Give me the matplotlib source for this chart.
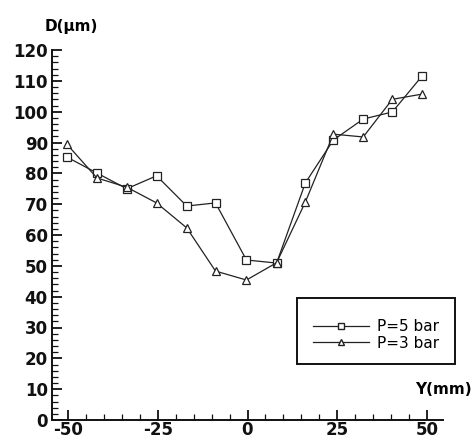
import matplotlib
matplotlib.use("Agg")
import matplotlib.pyplot as plt
from matplotlib.ticker import MultipleLocator
from matplotlib.patches import Rectangle
from matplotlib.lines import Line2D

plt.rcParams["axes.unicode_minus"] = False

y_pos = [-50.3, -41.9, -33.6, -25.3, -16.9, -8.9, -0.3, 8.1, 16.1, 23.9, 32.2, 40.3, 48.6]
d_5bar = [85.3, 80.1, 75.0, 79.2, 69.4, 70.4, 51.9, 50.9, 76.9, 90.8, 97.6, 99.9, 111.6]
d_3bar = [89.5, 78.5, 75.5, 70.4, 62.3, 48.3, 45.4, 51.0, 70.7, 92.7, 91.8, 104.0, 105.7]
labels = ["P=5 bar", "P=3 bar"]
x_ticks = [-50, -25, 0, 25, 50]
y_ticks = [0, 10, 20, 30, 40, 50, 60, 70, 80, 90, 100, 110, 120]

W, H = 474, 438
fig = plt.figure(figsize=(W / 100, H / 100), dpi=100)
ax = fig.add_axes([52 / W, 1 - 420 / H, (443 - 52) / W, (420 - 50) / H])

col = "#222222"
ax.plot(y_pos, d_5bar, color=col, lw=0.9, marker="s", ms=6, mfc="white", mec=col, mew=0.9, label=labels[0])
ax.plot(y_pos, d_3bar, color=col, lw=0.9, marker="^", ms=6, mfc="white", mec=col, mew=0.9, label=labels[1])

ax.set_xlim(-54.4, 54.4)
ax.set_ylim(0, 120)
ax.set_xticks(x_ticks)
ax.set_yticks(y_ticks)
ax.xaxis.set_minor_locator(MultipleLocator(5))
ax.yaxis.set_minor_locator(MultipleLocator(2))
for s in ["top", "right"]:
    ax.spines[s].set_visible(False)
for s in ["left", "bottom"]:
    ax.spines[s].set_linewidth(1.4)
    ax.spines[s].set_color("#111111")
ax.tick_params(which="major", direction="in", length=7, width=1.3, colors="#111111", labelsize=12, pad=3)
ax.tick_params(which="minor", direction="in", length=4, width=0.9, colors="#111111")
ax.tick_params(axis="x", pad=1)
for t in ax.get_xticklabels() + ax.get_yticklabels():
    t.set_fontweight("bold")

fig.text(45 / W, 1 - 27 / H, "D(\u00b5m)", fontsize=11, fontweight="bold", ha="left", va="center")
fig.text(472 / W, 1 - 390 / H, "Y(mm)", fontsize=11, fontweight="bold", ha="right", va="center")

fig.patches.append(Rectangle((297 / W, 1 - 364 / H), (455 - 297) / W, (364 - 298) / H,
                             transform=fig.transFigure, fill=False, ec="#111111", lw=1.4))
h1 = Line2D([], [], color=col, lw=0.9, marker="s", ms=4.5, mfc="white", mec=col)
h2 = Line2D([], [], color=col, lw=0.9, marker="^", ms=4.5, mfc="white", mec=col)
fig.legend([h1, h2], labels, loc="center", bbox_to_anchor=(376 / W, 1 - 335 / H),
           frameon=False, fontsize=11, handlelength=3.7, handletextpad=0.5,
           labelspacing=0.1, borderpad=0, markerscale=1)

fig.savefig("out.png", dpi=100)
